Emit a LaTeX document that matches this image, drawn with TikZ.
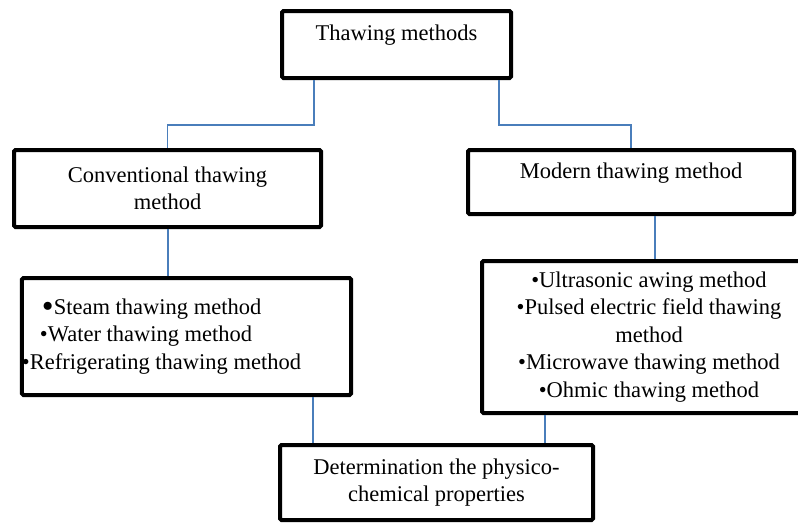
\documentclass[tikz,border=0pt]{standalone}
\usepackage{fontspec}
\usepackage{graphicx}
\setmainfont{Liberation Serif}
\definecolor{connblue}{RGB}{74,126,187}
\begin{document}
\begin{tikzpicture}[x=1pt,y=-1pt,
  box/.style={draw=black, line width=4pt, rounded corners=1.5pt, fill=white,
    align=center, inner sep=0pt,
    font=\fontsize{22.5}{27.5}\selectfont},
  conn/.style={draw=connblue, line width=1.5pt}]
\useasboundingbox (0,0) rectangle (798,523);

\coordinate (j1) at (0,125);
\coordinate (tl) at (314,78);
\coordinate (tr) at (499,78);
\coordinate (cs) at (168,227);
\coordinate (ms) at (655,214);
\coordinate (lb) at (313,394);
\coordinate (rb) at (545,413);

% boxes
\node[box, minimum width=229pt, minimum height=67pt, text height=16pt, text depth=24pt]
  (top) at (396.5,44.5) {Thawing methods};
\node[box, minimum width=307pt, minimum height=77pt]
  (conv) at (167.5,188.5) {Conventional thawing\\method};
\node[box, minimum width=326pt, minimum height=64pt, text height=16pt, text depth=23pt]
  (modern) at (631,182) {Modern thawing method};
\node[box, align=left, minimum width=327pt, minimum height=117pt]
  (clist) at (186.5,336.5)
  {\hspace*{20pt}\raisebox{-3.5pt}{\scalebox{1.5}{•}}Steam thawing method\\
   \hspace*{18pt}•Water thawing method\\
   •Refrigerating thawing method\hspace*{50pt}};
\node[box, minimum width=334pt, minimum height=152pt]
  (mlist) at (649,337)
  {•Ultrasonic awing method\\
   •Pulsed electric field thawing\\
   method\\
   •Microwave thawing method\\
   •Ohmic thawing method};
\node[box, minimum width=313pt, minimum height=75pt]
  (final) at (436.5,482.5) {Determination the physico-\\chemical properties};

% connectors
\draw[conn] (tl |- top.south) -- (tl |- j1) -| (conv.north);
\draw[conn] (tr |- top.south) -- (tr |- j1) -| (modern.north);
\draw[conn] (cs |- conv.south) -- (cs |- clist.north);
\draw[conn] (ms |- modern.south) -- (ms |- mlist.north);
\draw[conn] (lb |- clist.south) -- (lb |- final.north);
\draw[conn] (rb |- mlist.south) -- (rb |- final.north);
\end{tikzpicture}
\end{document}
